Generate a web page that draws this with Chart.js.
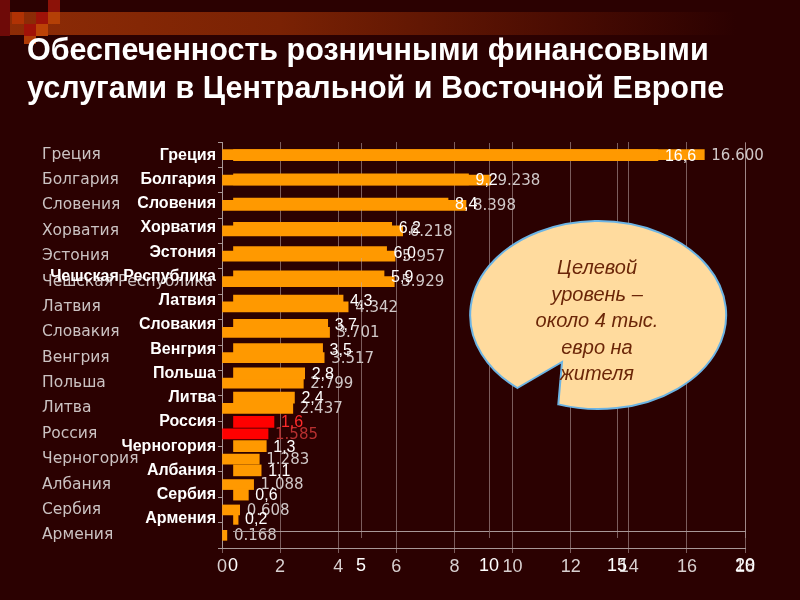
<!DOCTYPE html>
<html lang="ru">
<head>
<meta charset="UTF-8">
<title>Обеспеченность розничными финансовыми услугами</title>
<script src="https://cdn.jsdelivr.net/npm/chart.js"></script>
<style>
  html, body { margin: 0; padding: 0; }
  body { width: 800px; height: 600px; background: #2b0101; position: relative; overflow: hidden; font-family: "Liberation Sans", Arial, sans-serif; }
  .band { position: absolute; left: 0; top: 12px; width: 800px; height: 23px;
          background: linear-gradient(to right, #8e2c06 0%, #7a2204 35%, #4a0c02 70%, #2b0101 92%); }
  .sq { position: absolute; width: 12px; height: 12px; }
  canvas { position: absolute; left: 0; top: 0; }
  .title { position: absolute; left: 27px; top: 30px; color: #fff; font-weight: bold; font-size: 30.5px; line-height: 38px; white-space: nowrap; }
  svg { position: absolute; left: 0; top: 0; }
</style>
</head>
<body>
  <div class="band"></div>
  <div class="sq" style="left:0;top:0;width:10px;height:36px;background:#6e0a08"></div>
  <div class="sq" style="left:48px;top:0;background:#8c1208"></div>
  <div class="sq" style="left:12px;top:12px;background:#b03204"></div>
  <div class="sq" style="left:36px;top:12px;background:#9e1208"></div>
  <div class="sq" style="left:48px;top:12px;background:#b44006"></div>
  <div class="sq" style="left:24px;top:24px;background:#a01208"></div>
  <div class="sq" style="left:36px;top:24px;background:#bc4206"></div>
  <div class="sq" style="left:24px;top:36px;width:12px;height:8px;background:#b03a06"></div>

  <canvas id="chartExact" width="800" height="600"></canvas>
  <canvas id="chartRounded" width="800" height="600"></canvas>

  <div class="title">Обеспеченность розничными финансовыми<br>услугами в Центральной и Восточной Европе</div>

  <svg width="800" height="600">
    <path d="M 517.4 388 L 562 362 L 558.3 404.4 A 128 94 0 1 0 517.4 388 Z"
          fill="#ffdb9e" stroke="#6cb4e4" stroke-width="2"/>
    <g font-family="Liberation Sans, Arial, sans-serif" font-style="italic" font-size="20" fill="#6b2608" text-anchor="middle">
      <text x="597" y="274">Целевой</text>
      <text x="597" y="301">уровень –</text>
      <text x="597" y="327">около 4 тыс.</text>
      <text x="597" y="354">евро на</text>
      <text x="597" y="380">жителя</text>
    </g>
  </svg>

<script>
// страны (сверху вниз)
const countries = ['Греция', 'Болгария', 'Словения', 'Хорватия', 'Эстония', 'Чешская Республика',
  'Латвия', 'Словакия', 'Венгрия', 'Польша', 'Литва', 'Россия', 'Черногория', 'Албания', 'Сербия', 'Армения'];

// значения переднего графика (округлённые)
const valuesRounded = [16.6, 9.2, 8.4, 6.2, 6.0, 5.9, 4.3, 3.7, 3.5, 2.8, 2.4, 1.6, 1.3, 1.1, 0.6, 0.2];

// значения заднего графика (точные)
const valuesExact = [16.600, 9.238, 8.398, 6.218, 5.957, 5.929, 4.342, 3.701, 3.517, 2.799, 2.437, 1.585, 1.283, 1.088, 0.608, 0.168];

// метки осей X
const ticksRounded = [0, 5, 10, 15, 20];
const ticksExact = [0, 2, 4, 6, 8, 10, 12, 14, 16, 18];

const highlight = 'Россия';
const barColors = countries.map(c => c === highlight ? '#ff0000' : '#ff9900');
const gridColor = 'rgba(190, 170, 170, 0.55)';

Chart.defaults.font.family = '"Liberation Sans", Arial, sans-serif';
Chart.defaults.animation = false;

// подписи значений справа от столбцов
function valueLabels(id, format, colorFn, font) {
  return {
    id: id,
    afterDatasetsDraw(chart) {
      const ctx = chart.ctx;
      const meta = chart.getDatasetMeta(0);
      ctx.save();
      ctx.font = font;
      ctx.textAlign = 'left';
      ctx.textBaseline = 'middle';
      meta.data.forEach((bar, i) => {
        ctx.fillStyle = colorFn(i);
        ctx.fillText(format(chart.data.datasets[0].data[i]), bar.x + 7, bar.y + 1);
      });
      ctx.restore();
    }
  };
}

// задний график (точные значения, шкала 0-18)
new Chart(document.getElementById('chartExact'), {
  type: 'bar',
  data: {
    labels: countries,
    datasets: [{ data: valuesExact, backgroundColor: barColors, barThickness: 10 }]
  },
  options: {
    indexAxis: 'y',
    responsive: false,
    devicePixelRatio: 1,
    layout: { padding: { left: 42, right: 55, top: 142, bottom: 22 } },
    plugins: { legend: { display: false }, tooltip: { enabled: false } },
    scales: {
      x: {
        min: 0, max: 18,
        afterBuildTicks: s => { s.ticks = ticksExact.map(v => ({ value: v })); },
        afterFit: s => { s.height = 30; },
        ticks: { color: '#d8d0d0', font: { size: 18 }, padding: 3 },
        grid: { color: gridColor, tickLength: 5 },
        border: { color: '#a89898' }
      },
      y: {
        afterFit: s => { s.width = 180; },
        ticks: { color: '#cbc2c2', crossAlign: 'far', font: { family: '"DejaVu Sans", sans-serif', size: 15.5 } },
        grid: { offset: true, drawOnChartArea: false, tickLength: 4, color: '#a89898' },
        border: { color: '#a89898' }
      }
    }
  },
  plugins: [valueLabels('exactLabels', v => v.toFixed(3),
    i => countries[i] === highlight ? '#b83030' : '#d0c8c8',
    '15px "DejaVu Sans", sans-serif')]
});

// передний график (округлённые значения, шкала 0-20)
new Chart(document.getElementById('chartRounded'), {
  type: 'bar',
  data: {
    labels: countries,
    datasets: [{ data: valuesRounded, backgroundColor: barColors, barThickness: 11 }]
  },
  options: {
    indexAxis: 'y',
    responsive: false,
    devicePixelRatio: 1,
    layout: { padding: { left: 33, right: 55, top: 143, bottom: 19 } },
    plugins: { legend: { display: false }, tooltip: { enabled: false } },
    scales: {
      x: {
        min: 0, max: 20,
        afterBuildTicks: s => { s.ticks = ticksRounded.map(v => ({ value: v })); },
        afterFit: s => { s.height = 50; },
        ticks: { color: '#ffffff', font: { size: 18 }, padding: 17 },
        grid: { color: c => c.tick && c.tick.value === 0 ? 'rgba(0,0,0,0)' : gridColor, tickLength: 7 },
        border: { color: '#a89898' }
      },
      y: {
        afterFit: s => { s.width = 200; },
        ticks: { color: '#ffffff', font: { size: 16, weight: 'bold' }, padding: 17 },
        grid: { display: false, drawTicks: false },
        border: { display: false }
      }
    }
  },
  plugins: [valueLabels('roundedLabels', v => v.toFixed(1).replace('.', ','),
    i => countries[i] === highlight ? '#ff2a2a' : '#ffffff',
    '16px "Liberation Sans", Arial, sans-serif')]
});
</script>
</body>
</html>
